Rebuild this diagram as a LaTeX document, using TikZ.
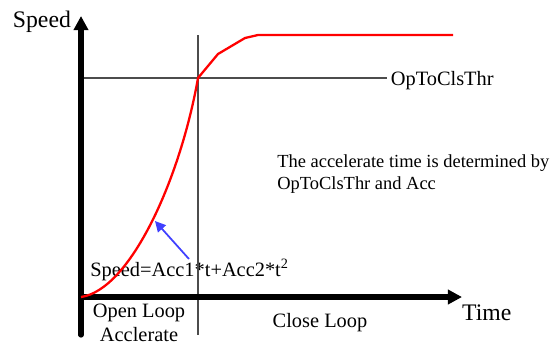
\documentclass[tikz,border=0pt]{standalone}
\usepackage{fontspec}
\setmainfont{Liberation Serif}
\usetikzlibrary{arrows.meta, positioning}

\begin{document}
\begin{tikzpicture}[x=0.02cm, y=-0.02cm, font=\rmfamily\fontsize{11.6}{13.5}\selectfont,
    axis/.style={line width=3pt, line cap=round, -{Triangle[length=8pt, width=8pt]}},
    guide/.style={gray!60!black, line width=0.6pt},
    curve/.style={red, line width=1.3pt, line join=round}]
        \useasboundingbox (0,0) rectangle (550,343);
        \coordinate (O) at (81,297);
        \coordinate (ytop) at (81,16);
        \coordinate (ybot) at (81,335);
        \coordinate (xend) at (462,297);
        \coordinate (sw) at (198,78);
        \coordinate (vtop) at (198,35);
        \coordinate (vbot) at (198,335);
        \coordinate (hleft) at (81,78);
        \node[anchor=west, inner sep=2pt] (thrlbl) at (387,81) {OpToClsThr};
        \node[anchor=east, inner sep=1pt, font=\rmfamily\fontsize{13.5}{15}\selectfont] (speedlbl) at (73,22) {Speed};
        \node[anchor=west, inner sep=1pt, font=\rmfamily\fontsize{13.5}{15}\selectfont] (timelbl) at (460,313) {Time};
        \node[anchor=west, align=left, inner sep=0pt, font=\rmfamily\fontsize{10.5}{12.5}\selectfont] (note) at (277,174) {The accelerate time is determined by\\OpToClsThr and Acc};
        \node[anchor=west, inner sep=0pt] (formula) at (90,270) {Speed=Acc1*t+Acc2*t\textsuperscript{2}};
        \node[align=center, inner sep=0pt] (openlbl) at (139,323) {Open Loop\\Acclerate};
        \node[inner sep=0pt] (closelbl) at (320,323) {Close Loop};
        \coordinate (tip) at (155,221);
        \coordinate (tail) at (189,259);
        \draw[guide] (vtop) -- (vbot);
        \draw[guide] (hleft) -- (hleft -| thrlbl.west);
        \draw[axis] (ybot) -- (ytop);
        \draw[axis, line cap=butt] (78,297) -- (xend);
        \draw[curve] (O) .. controls (130,290) and (180,180) .. (sw) -- (218,54) -- (245,38) -- (258,35) -- (453,35);
        \draw[blue!75!white, line width=1pt, -{Triangle[length=6pt, width=6pt]}] (tail) -- (tip);
      \end{tikzpicture}
\end{document}
